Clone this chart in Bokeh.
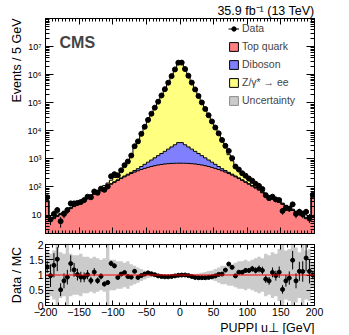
import numpy as np
from bokeh.plotting import figure
from bokeh.models import (Range1d, LinearAxis, LogAxis, Label, Legend, LegendItem, Span, Title,
                          FixedTicker, CustomJSTickFormatter)
from bokeh.layouts import column
from bokeh.embed import file_html
from bokeh.resources import INLINE

FONT = "Liberation Sans"

# ---------------- data (5 GeV bins, -200..200, outer bins include overflow) ----------------
bin_edges = list(range(-200, 205, 5))

top_quark = [30, 6.3, 7.4, 8.8, 10.4, 12.2, 14.5, 17, 20, 24, 28, 33, 40, 47, 55, 65, 77, 91, 107, 125,
             146, 171, 199, 230, 264, 301, 339, 378, 419, 459, 499, 537, 573, 605, 634, 658, 676, 689, 697, 700,
             700, 697, 689, 676, 658, 634, 605, 573, 537, 499, 459, 419, 378, 339, 301, 264, 230, 199, 171, 146,
             125, 107, 91, 77, 62, 51, 44, 37, 33, 28, 24, 20, 17, 14.5, 12.2, 10.4, 8.8, 7.4, 6.3, 44]

diboson = [2, 0.5, 0.55, 0.62, 0.7, 0.8, 0.9, 1.0, 1.15, 1.3, 1.5, 1.75, 2.0, 2.3, 2.7, 3.1, 3.6, 4.2, 5, 6,
           7.2, 9, 11.5, 15, 21, 30, 45, 70, 115, 180, 265, 375, 520, 700, 925, 1200, 1550, 1970, 2490, 3100,
           3100, 2490, 1970, 1550, 1200, 925, 700, 520, 375, 265, 180, 115, 70, 45, 30, 21, 15, 11.5, 9, 7.2,
           6, 5, 4.2, 3.6, 3.1, 2.7, 2.3, 2.0, 1.75, 1.5, 1.3, 1.15, 1.0, 0.9, 0.8, 0.7, 0.62, 0.55, 0.5, 5]

z_ee = [2, 0.35, 0.4, 0.45, 0.5, 0.6, 0.75, 0.9, 1.1, 1.3, 1.6, 2.0, 2.5, 3.2, 5.3, 8, 10.5, 17, 26, 43,
        66, 102, 170, 305, 566, 1080, 2130, 4120, 7410, 12850, 22140, 37990, 64980, 110900, 189000, 321700,
        547300, 930600, 1581700, 2687000,
        2687000, 1581700, 930600, 547300, 321700, 189000, 110900, 64980, 37990, 22140, 12850, 7410, 4120,
        2130, 1080, 566, 305, 170, 102, 66, 43, 26, 17, 10.5, 8, 5.3, 3.2, 2.5, 2.0, 1.6, 1.3, 1.1, 0.9,
        0.75, 0.6, 0.5, 0.45, 0.4, 0.35, 4]

data_counts = [43, 7, 11, 15, 6, 11, 15, 26, 26, 27, 29, 34, 45, 43, 69, 62, 87, 79, 104, 240,
               285, 259, 392, 594, 808, 1312, 2816, 4203, 7785, 13894, 24507, 40458, 66734, 108839, 181031,
               304145, 516554, 886596, 1537340, 2663892,
               2684950, 1584887, 914594, 522050, 297673, 173409, 102107, 60126, 35790, 21530, 13084, 8103,
               4705, 2916, 1919, 1064, 534, 415, 307, 252, 200, 166, 129, 109, 84, 51, 40, 45, 36, 34,
               14, 18, 17, 24, 11, 13, 11, 13, 8, 53]

mc_unc_rel = [0.8, 0.7, 0.8, 1.0, 0.75, 0.7, 1.0, 0.7, 0.65, 0.65, 0.7, 0.6, 0.6, 0.55, 0.6, 0.55, 0.5, 0.55,
              1.0, 0.5, 0.5, 0.45, 0.45, 0.4, 0.45, 0.35, 0.3, 0.25, 0.2, 0.15, 0.1, 0.07, 0.05, 0.04, 0.03,
              0.03, 0.02, 0.02, 0.02, 0.02,
              0.02, 0.02, 0.02, 0.03, 0.04, 0.05, 0.07, 0.1, 0.13, 0.15, 0.2, 0.25, 0.3, 0.3, 0.35, 0.35,
              0.4, 0.45, 0.45, 0.5, 0.45, 0.5, 0.55, 0.6, 0.55, 0.7, 0.65, 0.75, 0.7, 0.85, 1.0, 0.8, 0.85,
              1.0, 0.9, 0.75, 1.0, 0.8, 0.85, 0.4]

x_major_ticks = [-200, -150, -100, -50, 0, 50, 100, 150, 200]
ratio_y_ticks = [0, 0.5, 1, 1.5, 2]
legend_labels = ["Data", "Top quark", "Diboson", "Z/\u03b3* \u2192 ee", "Uncertainty"]
lumi_text = "35.9 fb\u207b\u00b9 (13 TeV)"
y_title_main = "Events / 5 GeV"
y_title_ratio = "Data / MC"
x_title = "PUPPI u\u22a5 [GeV]"

# ---------------- style ----------------
RED = "#FF8080"
BLUE = "#8080FF"
YEL = "#FFFF80"
GRAY = "#CBCBCB"

edges = np.array(bin_edges, dtype=float)
centers = 0.5 * (edges[:-1] + edges[1:])
top = np.array(top_quark, float)
dib = np.array(diboson, float)
zee = np.array(z_ee, float)
s1 = top
s2 = top + dib
s3 = s2 + zee
dat = np.array(data_counts, float)
err = np.sqrt(dat)
unc = np.array(mc_unc_rel, float)


def ext(a):
    return np.append(a, a[-1])


W = 345
H_MAIN = 236
H_RATIO = 98


def style_axis(ax, maj_in, min_in, labels=True, fsize="10px"):
    ax.major_tick_in = maj_in
    ax.major_tick_out = 0
    ax.minor_tick_in = min_in
    ax.minor_tick_out = 0
    ax.axis_line_color = "black"
    ax.major_tick_line_color = "black"
    ax.minor_tick_line_color = "black"
    ax.major_label_text_font = FONT
    ax.major_label_text_color = "black"
    if labels:
        ax.major_label_text_font_size = fsize
        ax.major_label_standoff = 2
    else:
        ax.major_label_text_font_size = "0px"
        ax.major_label_standoff = 0
        ax.formatter = CustomJSTickFormatter(code="return '';")


def side_title(text, align, standoff, size="12px"):
    return Title(text=text, align=align, standoff=standoff, text_font=FONT, text_font_size=size,
                 text_font_style="normal", text_color="black")


log_fmt = CustomJSTickFormatter(code="""
const e = Math.round(Math.log10(tick));
if (e > 7) { return ''; }
if (e == 1) { return '10'; }
const sup = {'0':'\u2070','1':'\u00b9','2':'\u00b2','3':'\u00b3','4':'\u2074','5':'\u2075','6':'\u2076','7':'\u2077','8':'\u2078','9':'\u2079'};
return '10' + String(e).split('').map(c => sup[c]).join('');
""")

y_major = [10.0 ** e for e in range(0, 9)]
y_minor = [m * 10.0 ** e for e in range(0, 8) for m in range(2, 10)]
x_minor_main = list(range(-200, 201, 5))
x_minor_ratio = list(range(-200, 201, 10))

# ---------------- main panel ----------------
p = figure(width=W, height=H_MAIN, x_range=Range1d(-200, 200), y_range=Range1d(2.2, 1e8),
           y_axis_type="log", output_backend="svg", toolbar_location=None,
           min_border_left=45, min_border_right=W - 314, min_border_top=18, min_border_bottom=3)
p.xgrid.visible = False
p.ygrid.visible = False
p.outline_line_color = "black"
p.outline_line_width = 1
p.background_fill_color = "white"
p.border_fill_color = "white"
p.title.text = ""
p.title.standoff = 0

p.varea_step(x=edges, y1=np.full(len(edges), 1e-2), y2=ext(s1), step_mode="after", fill_color=RED)
p.varea_step(x=edges, y1=ext(s1), y2=ext(s2), step_mode="after", fill_color=BLUE)
p.varea_step(x=edges, y1=ext(s2), y2=ext(s3), step_mode="after", fill_color=YEL)
for s in (s1, s2, s3):
    p.step(x=edges, y=ext(s), mode="after", line_color="black", line_width=1)

r_err = p.segment(x0=centers, y0=np.maximum(dat - err, 1e-2), x1=centers, y1=dat + err,
                  line_color="black", line_width=1)
r_dot = p.scatter(x=centers, y=dat, size=5, fill_color="black", line_color="black")

# axes
xb = p.xaxis[0]
xb.ticker = FixedTicker(ticks=x_major_ticks, minor_ticks=x_minor_main)
style_axis(xb, 6, 3, labels=False)
yl = p.yaxis[0]
yl.ticker = FixedTicker(ticks=y_major, minor_ticks=y_minor)
style_axis(yl, 8, 4, labels=True, fsize="9px")
yl.major_label_standoff = 4
yl.formatter = log_fmt

xt = LinearAxis(ticker=FixedTicker(ticks=x_major_ticks, minor_ticks=x_minor_main))
style_axis(xt, 6, 3, labels=False)
p.add_layout(xt, "above")
yr = LogAxis(ticker=FixedTicker(ticks=y_major, minor_ticks=y_minor))
style_axis(yr, 8, 4, labels=False)
p.add_layout(yr, "right")
p.add_layout(side_title(y_title_main, "right", 2, "12.5px"), "left")
p.add_layout(side_title(lumi_text, "right", 1, "12.5px"), "above")

# legend: hidden copies of the stacked bins carry the boxed legend style
bl = np.full(len(centers), 1e-2)
r_top = p.quad(left=edges[:-1], right=edges[1:], bottom=bl, top=s1, fill_color=RED,
               line_color="black", visible=False)
r_dib = p.quad(left=edges[:-1], right=edges[1:], bottom=s1, top=s2, fill_color=BLUE,
               line_color="black", visible=False)
r_z = p.quad(left=edges[:-1], right=edges[1:], bottom=s2, top=s3, fill_color=YEL,
             line_color="black", visible=False)
r_unc = p.quad(left=edges[:-1], right=edges[1:], bottom=np.maximum(s3 * (1 - unc), 1e-2),
               top=s3 * (1 + unc), fill_color=GRAY, line_color="#8C8C8C", visible=False)
leg = Legend(items=[LegendItem(label=legend_labels[0], renderers=[r_err, r_dot]),
                    LegendItem(label=legend_labels[1], renderers=[r_top]),
                    LegendItem(label=legend_labels[2], renderers=[r_dib]),
                    LegendItem(label=legend_labels[3], renderers=[r_z]),
                    LegendItem(label=legend_labels[4], renderers=[r_unc])],
             location=(183, 127), glyph_width=11, glyph_height=11, label_height=11, spacing=6,
             padding=0, margin=0, label_standoff=3, label_text_font=FONT, label_text_font_size="10.5px",
             background_fill_alpha=0, border_line_color=None, inactive_fill_alpha=0)
p.add_layout(leg)

p.add_layout(Label(x=14, y=191, x_units="screen", y_units="screen", text="CMS", text_font=FONT,
                   text_font_style="bold", text_font_size="16px", text_baseline="alphabetic"))

# ---------------- ratio panel ----------------
mc = s3
ratio = dat / mc
rerr = err / mc

r = figure(width=W, height=H_RATIO, x_range=Range1d(-200, 200), y_range=Range1d(0, 2),
           output_backend="svg", toolbar_location=None,
           min_border_left=45, min_border_right=W - 314, min_border_top=8, min_border_bottom=28)
r.title.standoff = 0
r.xgrid.visible = False
r.ygrid.visible = False
r.outline_line_color = "black"
r.background_fill_color = "white"
r.border_fill_color = "white"

r.varea_step(x=edges, y1=ext(1 - unc), y2=ext(1 + unc), step_mode="after", fill_color=GRAY)
r.add_layout(Span(location=1, dimension="width", line_color="red", line_width=1))
r.segment(x0=centers, y0=ratio - rerr, x1=centers, y1=ratio + rerr, line_color="black", line_width=1)
r.scatter(x=centers, y=ratio, size=4, fill_color="black", line_color="black")

rx = r.xaxis[0]
rx.ticker = FixedTicker(ticks=x_major_ticks, minor_ticks=x_minor_ratio)
style_axis(rx, 5, 3, labels=True, fsize="10.5px")
ry = r.yaxis[0]
ry.ticker = FixedTicker(ticks=ratio_y_ticks, minor_ticks=[i / 10 for i in range(0, 21)])
style_axis(ry, 8, 4, labels=True, fsize="10.5px")
ry.major_label_overrides = {0: "0", 0.5: "0.5", 1: "1", 1.5: "1.5", 2: "2"}

rxt = LinearAxis(ticker=FixedTicker(ticks=x_major_ticks, minor_ticks=x_minor_ratio))
style_axis(rxt, 5, 3, labels=False)
r.add_layout(rxt, "above")
ryr = LinearAxis(ticker=FixedTicker(ticks=ratio_y_ticks, minor_ticks=[i / 10 for i in range(0, 21)]))
style_axis(ryr, 8, 4, labels=False)
r.add_layout(ryr, "right")
r.add_layout(side_title(y_title_ratio, "center", 4, "12.5px"), "left")
r.add_layout(side_title(x_title, "right", 0, "12.5px"), "below")

layout = column(p, r)
open("out.html", "w").write(file_html(layout, INLINE))
